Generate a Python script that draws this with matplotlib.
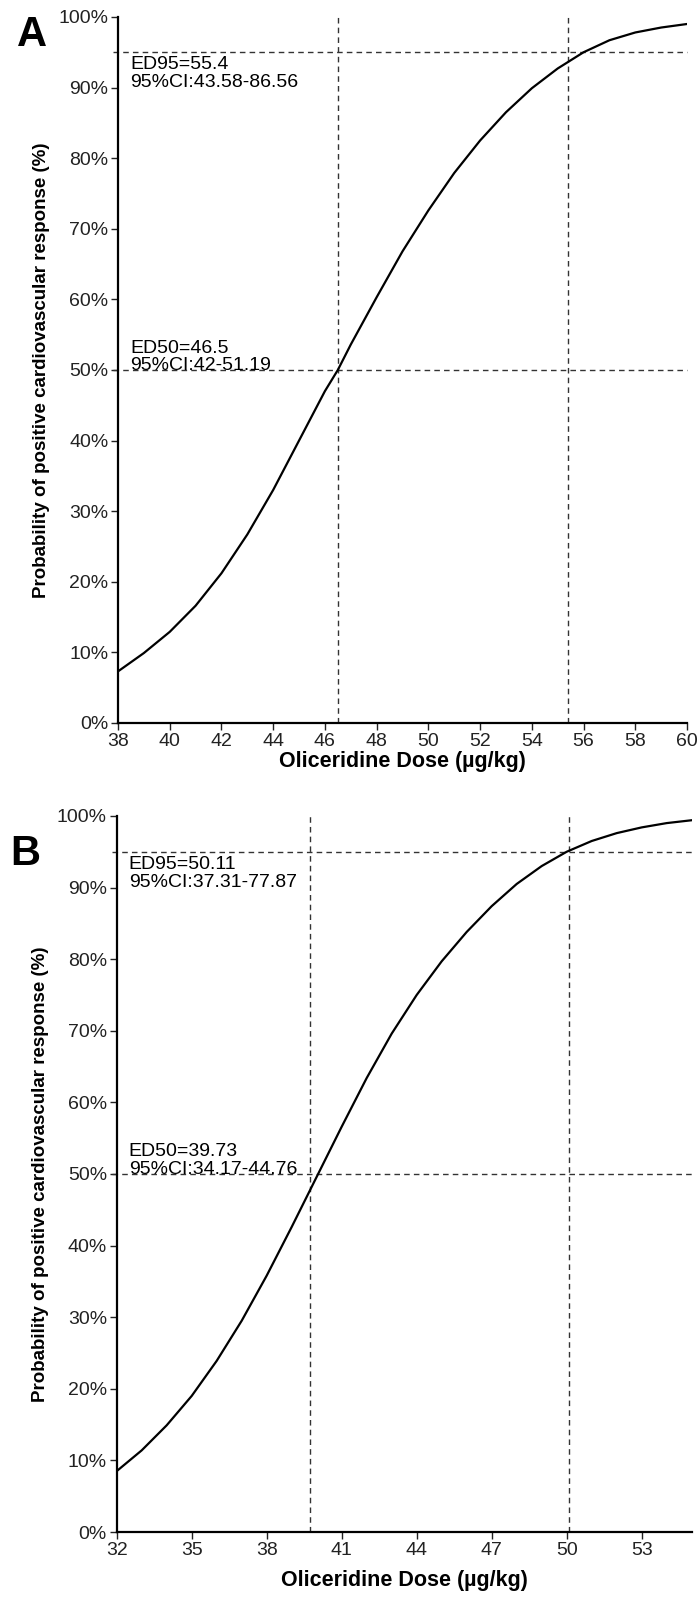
import matplotlib
matplotlib.use("Agg")
import matplotlib.pyplot as plt

plt.rcParams['font.family'] = ['Liberation Sans', 'DejaVu Sans']

# Panel A: dose-response curve
dose_a = [38, 39, 40, 41, 42, 43, 44, 45, 46, 46.5, 47, 48, 49, 50, 51, 52, 53, 54, 55, 56, 57, 58, 59, 60]
prob_a = [7.3, 9.9, 12.9, 16.6, 21.2, 26.7, 33.0, 40.0, 47.0, 50.0, 53.6, 60.3, 66.8, 72.6,
          77.9, 82.5, 86.5, 89.9, 92.7, 95.0, 96.7, 97.8, 98.5, 99.0]
ticks_a = [38, 40, 42, 44, 46, 48, 50, 52, 54, 56, 58, 60]
ed50_a, ed95_a = 46.5, 55.4
txt95_a = "ED95=55.4\n95%CI:43.58-86.56"
txt50_a = "ED50=46.5\n95%CI:42-51.19"

# Panel B
dose_b = [32, 33, 34, 35, 36, 37, 38, 39, 40, 41, 42, 43, 44, 45, 46, 47, 48, 49, 50, 51, 52, 53, 54, 55]
prob_b = [8.5, 11.4, 14.9, 19.0, 23.9, 29.5, 35.8, 42.6, 49.6, 56.6, 63.4, 69.6, 75.0, 79.7,
          83.8, 87.4, 90.5, 93.0, 95.0, 96.5, 97.6, 98.4, 99.0, 99.4]
ticks_b = [32, 35, 38, 41, 44, 47, 50, 53]
ed50_b, ed95_b = 39.73, 50.11
txt95_b = "ED95=50.11\n95%CI:37.31-77.87"
txt50_b = "ED50=39.73\n95%CI:34.17-44.76"

yticks = [0, 10, 20, 30, 40, 50, 60, 70, 80, 90, 100]

fig = plt.figure(figsize=(6.97, 15.98), dpi=100)
ax_a = fig.add_axes([0.1693, 0.5476, 0.8164, 0.4418])
ax_b = fig.add_axes([0.1674, 0.0413, 0.8250, 0.4481])


def panel(ax, dose, prob, ticks, ed50, ed95, t95, t50, letter, lx, ly, xpad):
    x0, x1 = ticks[0], dose[-1]
    ax.plot(dose, prob, color='black', lw=1.6, zorder=3)
    dash = dict(color='#333333', lw=1.0, ls=(0, (4, 3)), clip_on=False)
    ax.plot([x0 - (x1 - x0) * 0.008, x1], [95, 95], **dash)
    ax.plot([x0 - (x1 - x0) * 0.008, x1], [50, 50], **dash)
    ax.plot([ed50, ed50], [0, 100], **dash)
    ax.plot([ed95, ed95], [0, 100], **dash)
    ax.set_xlim(x0, x1)
    ax.set_ylim(0, 100)
    ax.set_xticks(ticks)
    ax.set_yticks(yticks)
    ax.set_yticklabels([f"{v}%" for v in yticks])
    for s in ['top', 'right']:
        ax.spines[s].set_visible(False)
    for s in ['left', 'bottom']:
        ax.spines[s].set_linewidth(1.6)
    ax.tick_params(labelsize=14, length=5, width=1.0, pad=2, colors='#222222')
    ax.set_ylabel("Probability of positive cardiovascular response (%)",
                  fontsize=13.5, fontweight='bold', labelpad=6)
    ax.set_xlabel("Oliceridine Dose (µg/kg)", fontsize=15.5, fontweight='bold', labelpad=xpad)
    xt = x0 + (x1 - x0) * 0.021
    ax.text(xt, 94.4, t95, fontsize=14, va='top', ha='left', linespacing=1.05)
    ax.text(xt, 54.3, t50, fontsize=14, va='top', ha='left', linespacing=1.05)
    ax.text(lx, ly, letter, transform=ax.transAxes, fontsize=30,
            fontweight='bold', va='top', ha='left')


panel(ax_a, dose_a, prob_a, ticks_a, ed50_a, ed95_a, txt95_a, txt50_a, "A", -0.178, 1.003, 1)
panel(ax_b, dose_b, prob_b, ticks_b, ed50_b, ed95_b, txt95_b, txt50_b, "B", -0.185, 0.975, 8)

fig.savefig("out.png", dpi=100)
